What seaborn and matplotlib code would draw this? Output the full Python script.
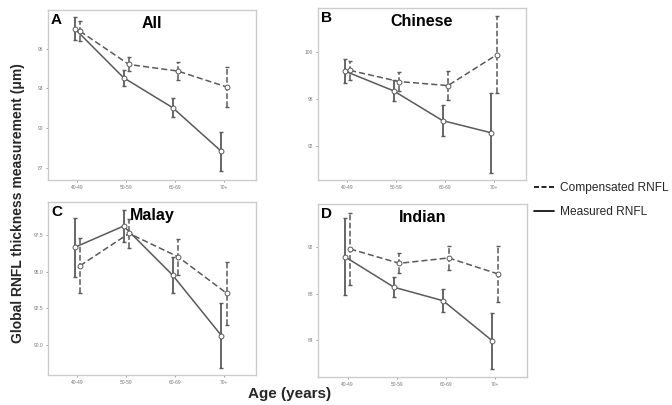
import numpy as np
import pandas as pd
import matplotlib
matplotlib.use("Agg")
import matplotlib.pyplot as plt
import seaborn as sns
from matplotlib.lines import Line2D

sns.set_theme(style="white")
plt.rcParams['font.family'] = ['Liberation Sans', 'DejaVu Sans']

age_groups = ["40-49", "50-59", "60-69", "70+"]

# Panel A: All
all_measured = [97.5, 93.8, 91.55, 88.25]
all_measured_err = [0.85, 0.6, 0.72, 1.5]
all_comp = [97.3, 94.8, 94.3, 93.1]
all_comp_err = [0.75, 0.53, 0.68, 1.5]

# Panel B: Chinese
chi_measured = [98.4, 96.7, 94.15, 93.1]
chi_measured_err = [1.0, 0.9, 1.3, 3.4]
chi_comp = [98.45, 97.5, 97.15, 99.8]
chi_comp_err = [0.83, 0.78, 1.25, 3.3]

# Panel C: Malay
mal_measured = [96.66, 98.11, 94.77, 90.64]
mal_measured_err = [2.0, 1.07, 1.23, 2.2]
mal_comp = [95.41, 97.61, 96.02, 93.52]
mal_comp_err = [1.86, 0.98, 1.23, 2.13]

# Panel D: Indian
ind_measured = [91.2, 88.57, 87.4, 83.95]
ind_measured_err = [3.3, 0.87, 1.0, 2.4]
ind_comp = [91.86, 90.63, 91.09, 89.72]
ind_comp_err = [3.1, 0.87, 1.0, 2.4]

panels = [
    ("A", "All", all_measured, all_measured_err, all_comp, all_comp_err,
     [96, 93, 90, 87], ["96", "93", "90", "87"], (86.1, 98.9)),
    ("B", "Chinese", chi_measured, chi_measured_err, chi_comp, chi_comp_err,
     [100, 96, 92], ["100", "96", "92"], (89.06, 103.8)),
    ("C", "Malay", mal_measured, mal_measured_err, mal_comp, mal_comp_err,
     [97.5, 95.0, 92.5, 90.0], ["97.5", "95.0", "92.5", "90.0"], (87.96, 99.75)),
    ("D", "Indian", ind_measured, ind_measured_err, ind_comp, ind_comp_err,
     [92, 88, 84], ["92", "88", "84"], (80.83, 95.74)),
]

W, H = 672, 405
fig = plt.figure(figsize=(W / 100, H / 100), dpi=100)

boxes = {
    "A": (48, 10, 256, 180),
    "B": (318, 8, 526, 180),
    "C": (48, 202, 256, 375),
    "D": (318, 204, 527, 377),
}

line_col = "#5a5a5a"
dodge = 0.055

for letter, title, meas, meas_err, comp, comp_err, yt, ytl, ylim in panels:
    l, t, r, b = boxes[letter]
    ax = fig.add_axes([l / W, 1 - b / H, (r - l) / W, (b - t) / H])
    idx = np.arange(len(age_groups))
    df = pd.DataFrame({
        "x": np.concatenate([idx - dodge, idx + dodge]),
        "value": meas + comp,
        "err": meas_err + comp_err,
        "type": ["Measured RNFL"] * 4 + ["Compensated RNFL"] * 4,
    })
    sns.lineplot(data=df, x="x", y="value", style="type",
                 dashes={"Measured RNFL": "", "Compensated RNFL": (4, 2)},
                 color=line_col, lw=1.1, marker="o", markersize=3.5,
                 markerfacecolor="white", markeredgecolor=line_col,
                 markeredgewidth=0.7, legend=False, ax=ax, zorder=3)
    for typ, ls, elw in [("Measured RNFL", "-", 1.3), ("Compensated RNFL", "--", 1.1)]:
        sub = df[df["type"] == typ]
        eb = ax.errorbar(sub["x"], sub["value"], yerr=sub["err"], fmt="none",
                         ecolor=line_col, elinewidth=elw, capsize=1.6,
                         capthick=1.0, zorder=2)
        eb[2][0].set_linestyle(ls)
    ax.set_xlim(-0.6, 3.65)
    ax.set_ylim(*ylim)
    ax.set_xticks(idx)
    ax.set_xticklabels(age_groups)
    ax.set_yticks(yt)
    ax.set_yticklabels(ytl)
    ax.tick_params(axis="both", labelsize=3.5, colors="#777777", length=1.5,
                   width=0.5, pad=2, left=True, bottom=True)
    ax.set_xlabel("")
    ax.set_ylabel("")
    for s in ax.spines.values():
        s.set_color("#cccccc")
        s.set_linewidth(1.0)
    ax.text(0.5, 0.965, title, transform=ax.transAxes, ha="center", va="top",
            fontsize=11.5, fontweight="bold", color="black")
    ax.text(0.015, 0.985, letter, transform=ax.transAxes, ha="left", va="top",
            fontsize=11, fontweight="bold", color="black")

fig.text(18 / W, 1 - 203 / H, "Global RNFL thickness measurement (μm)",
         rotation=90, ha="center", va="center", fontsize=10, fontweight="bold")
fig.text(290 / W, 1 - 394 / H, "Age (years)", ha="center", va="center",
         fontsize=11, fontweight="bold")

handles = [Line2D([], [], color="black", lw=1.2, ls=(0, (3, 1.5))),
           Line2D([], [], color="black", lw=1.2, ls="-")]
fig.legend(handles, ["Compensated RNFL", "Measured RNFL"],
           loc="center left", bbox_to_anchor=(534 / W, 1 - 200 / H),
           frameon=False, fontsize=8.6, handlelength=1.7, handletextpad=0.5,
           labelspacing=1.05, borderaxespad=0, borderpad=0)

fig.savefig("out.png", dpi=100)
